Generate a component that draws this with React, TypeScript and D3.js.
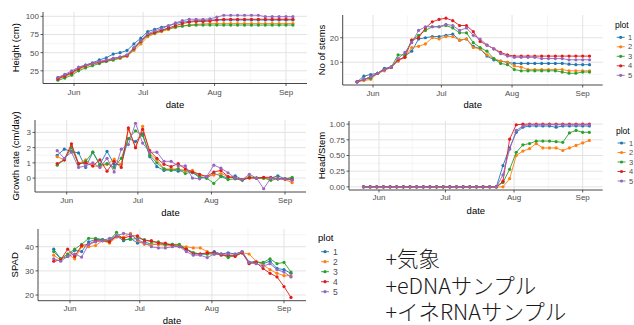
import React from "react";
import * as d3 from "d3";

const dates = [
  "2019-05-25", "2019-05-28", "2019-05-31", "2019-06-03", "2019-06-06", "2019-06-09", "2019-06-12",
  "2019-06-15", "2019-06-18", "2019-06-21", "2019-06-24", "2019-06-27", "2019-06-30", "2019-07-03",
  "2019-07-06", "2019-07-09", "2019-07-12", "2019-07-15", "2019-07-18", "2019-07-21", "2019-07-24",
  "2019-07-27", "2019-07-30", "2019-08-02", "2019-08-05", "2019-08-08", "2019-08-11", "2019-08-14",
  "2019-08-17", "2019-08-20", "2019-08-23", "2019-08-26", "2019-08-29", "2019-09-01", "2019-09-04",
];
const growthDates = dates.slice(1);

const plots = ["1", "2", "3", "4", "5"];
const plotColors = ["#1f77b4", "#ff7f0e", "#2ca02c", "#e31a1c", "#9467bd"];
const monthTicks = ["2019-06-01", "2019-07-01", "2019-08-01", "2019-09-01"];
const monthLabels = ["Jun", "Jul", "Aug", "Sep"];

const heightSeries = [
  [15, 19, 23, 29, 33, 36, 40, 43, 48, 50, 53, 62, 70, 79, 82, 85, 87, 90, 92, 93, 94, 94, 95, 95, 95, 95, 95, 95, 95, 95, 95, 95, 95, 95, 95],
  [14, 17, 21, 27, 31, 34, 36, 38, 40, 42, 45, 53, 62, 72, 76, 79, 82, 85, 87, 88, 89, 89.5, 90, 90, 90, 90, 90, 90, 90, 90, 90, 90, 90, 90, 90],
  [12, 15, 19, 25, 29, 32, 35, 38, 40, 43, 46, 55, 65, 74, 77, 80, 83, 85, 86.5, 87.5, 88, 88, 88, 88, 88, 88, 88, 88, 88, 88, 88, 88, 88, 88, 88],
  [14, 18, 22, 28, 32, 35, 37, 39, 42, 44, 46, 56, 66, 75, 78, 81, 84, 87, 90, 92, 93, 93, 93.5, 95, 96, 96, 96, 96, 96, 96, 96, 96, 96, 96, 96],
  [16, 20, 25, 30, 33, 35, 38, 40, 42, 44, 47, 57, 67, 76, 80, 83, 87, 91, 94, 96, 96, 96, 96.5, 99, 101.5, 101.5, 101.5, 101.5, 101.5, 101.5, 99.5, 99.5, 99.5, 99.5, 99.5],
];
const heightTicks = [25, 50, 75, 100];

const stemSeries = [
  [2, 4.3, 5, 5.5, 7.5, 8, 10.5, 12.5, 14.5, 19.5, 20, 20.5, 20.5, 21, 21.5, 19, 19.5, 16.5, 15.5, 12.5, 11, 10.5, 10, 9.5, 9.5, 9.5, 9.5, 9.5, 9.5, 9.5, 9.5, 9.2, 9, 9, 9],
  [2, 2.5, 3, 5.5, 6.5, 8, 10.5, 12, 16, 16.5, 17.5, 20, 19.5, 20.5, 20.5, 19, 19.5, 16, 15.5, 13, 11.5, 10.5, 10, 8.5, 8, 7, 7, 7, 7, 7, 7, 6.5, 6.5, 6.5, 6.5],
  [2, 3, 3.5, 5.5, 7, 8, 13, 13, 19, 21, 23, 24.5, 24.5, 25, 24, 22, 22, 18, 16, 14.5, 11.5, 9.5, 9, 7, 6.5, 6.5, 6.5, 6.5, 6.5, 6.5, 6, 5.5, 5.5, 6, 6],
  [2, 3, 4, 5.5, 7, 8, 11, 12, 19, 20, 24, 26.5, 27.5, 28, 27, 25, 25, 22.5, 18.5, 17, 15.5, 14, 13, 12.5, 12.5, 12.5, 12.5, 12.5, 12.5, 12.5, 12.5, 12.5, 12.5, 12.5, 12.5],
  [2, 3, 4, 5.5, 7, 8, 11.5, 14, 18, 23, 24.5, 24.5, 24.5, 25.5, 25, 23, 24, 21, 19.5, 17, 15.5, 13.5, 12.5, 12, 12, 12, 12, 11.5, 11.5, 11.5, 11.5, 11, 11, 11, 11],
];
const stemTicks = [10, 20];

const growthSeries = [
  [1.5, 1.9, 1.75, 1.65, 0.7, 1.7, 0.9, 1.75, 0.9, 0.9, 2.6, 2.4, 2.9, 1.4, 0.75, 0.5, 0.55, 0.45, 0.5, 0.35, 0.05, 0.0, 0.3, 0.15, 0.0, 0.15, -0.1, 0.05, 0.0, 0.0, 0.0, 0.15, -0.05, -0.05],
  [1.4, 1.2, 2.1, 0.95, 1.2, 0.8, 0.75, 0.9, 1.25, 0.9, 3.2, 2.0, 3.4, 1.6, 1.2, 0.6, 0.6, 0.6, 0.5, 0.5, 0.2, 0.1, 0.2, 0.3, 0.1, 0.0, -0.1, 0.1, 0.0, 0.0, -0.05, 0.0, -0.1, -0.3],
  [0.85, 1.2, 2.0, 0.9, 1.1, 1.7, 0.85, 0.95, 0.7, 1.3, 2.6, 3.1, 2.8, 1.5, 1.0, 0.6, 0.5, 0.6, 0.3, 0.4, 0.1, 0.0, -0.35, 0.1, -0.1, -0.05, -0.15, 0.05, 0.0, 0.0, -0.15, -0.05, -0.05, 0.05],
  [0.95, 1.2, 2.25, 0.95, 1.0, 0.8, 1.2, 0.45, 1.1, 0.7, 3.3, 2.0, 3.2, 1.8, 1.3, 0.9, 0.75, 0.95, 0.6, 0.4, 0.25, 0.1, 0.4, 0.5, 0.1, 0.0, -0.1, 0.0, 0.0, 0.05, 0.05, -0.05, -0.05, -0.1],
  [1.8, 1.3, 1.7, 0.7, 0.8, 1.0, 0.7, 1.3, 0.4, 1.9, 2.2, 3.6, 2.3, 1.7, 1.7, 1.1, 1.1, 0.8, 0.8, 0.0, -0.05, 0.1, 0.85, 0.65, 0.35, 0.0, -0.1, 0.25, 0.0, -0.7, 0.0, -0.05, -0.05, -0.15],
];
const growthTicks = [0, 1, 2, 3];

const headStemSeries = [
  [0, 0, 0, 0, 0, 0, 0, 0, 0, 0, 0, 0, 0, 0, 0, 0, 0, 0, 0, 0, 0, 0.34, 0.62, 0.87, 0.95, 0.97, 0.97, 0.97, 0.97, 0.95, 0.97, 0.97, 0.97, 0.97, 0.97],
  [0, 0, 0, 0, 0, 0, 0, 0, 0, 0, 0, 0, 0, 0, 0, 0, 0, 0, 0, 0, 0, 0, 0.13, 0.5, 0.57, 0.61, 0.69, 0.62, 0.62, 0.62, 0.58, 0.62, 0.66, 0.7, 0.74],
  [0, 0, 0, 0, 0, 0, 0, 0, 0, 0, 0, 0, 0, 0, 0, 0, 0, 0, 0, 0, 0, 0.07, 0.28, 0.55, 0.67, 0.69, 0.73, 0.73, 0.73, 0.72, 0.71, 0.86, 0.9, 0.87, 0.87],
  [0, 0, 0, 0, 0, 0, 0, 0, 0, 0, 0, 0, 0, 0, 0, 0, 0, 0, 0, 0, 0, 0.09, 0.76, 0.99, 1, 1, 1, 1, 1, 1, 1, 1, 1, 1, 1],
  [0, 0, 0, 0, 0, 0, 0, 0, 0, 0, 0, 0, 0, 0, 0, 0, 0, 0, 0, 0, 0, 0.19, 0.6, 0.9, 0.97, 0.99, 0.99, 0.99, 0.99, 0.99, 0.99, 0.99, 0.99, 0.99, 0.99],
];
const headStemTicks = [0, 0.25, 0.5, 0.75, 1];

const spadSeries = [
  [39, 35, 36, 38.5, 38, 42, 43, 43, 42.5, 44.5, 42.5, 43.5, 41.5, 42, 41, 41, 41, 41, 40.5, 39, 37.5, 37, 37, 38, 37, 37.5, 37, 38, 33.5, 34, 33, 34, 31, 30.5, 29],
  [36.5, 34.5, 37, 35, 40, 40, 40.5, 42.5, 41.5, 44, 44, 45.5, 42.5, 41, 41, 41, 40.5, 40.5, 40.5, 40, 39.5, 39.5, 38, 37, 37, 36, 36.5, 37.5, 37, 34, 32.5, 30.5, 29, 28, 28],
  [38, 35, 37, 39, 41, 43.5, 43.5, 43, 42.5, 46, 43, 43, 43.5, 43, 42, 42, 41, 41, 41, 39, 37.5, 37, 37, 37, 37, 35.5, 36.5, 37.5, 33.5, 33.5, 33.5, 35, 33, 33.5, 29.5],
  [34, 34.5, 39, 36, 40.5, 41, 42.5, 42.5, 42, 44.5, 43.5, 44.5, 44.5, 42.5, 42.5, 41.5, 41.5, 40.5, 40, 39, 37, 37, 37.5, 37.5, 36.5, 36.5, 36, 37.5, 33, 33.5, 31, 29, 27.5, 23.5, 19],
  [35, 34, 36, 37, 35.7, 41, 42, 42.5, 43.5, 44.5, 45.5, 45, 43, 41.5, 40, 39.5, 39.5, 40, 40, 38, 36.5, 36.5, 35.5, 37, 37, 37, 37, 38, 33.5, 33, 32, 33, 30.5, 29.5, 27.5],
];
const spadTicks = [20, 30, 40];

const notes = ["+気象", "+eDNAサンプル", "+イネRNAサンプル"];

const parse = d3.timeParse("%Y-%m-%d");
const FONT = "'Liberation Sans', Arial, Helvetica, sans-serif";

type Legend = { tx: number; ty: number; y0: number; step: number; kx: number; lx: number; tf: number; lf: number };
type Spec = {
  l: number; t: number; r: number; b: number;
  xJun: number; xSep: number;
  series: number[][]; ds: string[];
  yTicks: number[]; fmt: (v: number) => string;
  title: string; titleX: number; labY: number; dateY: number;
  legend?: Legend;
};

function Panel({ s }: { s: Spec }) {
  const tickDates = monthTicks.map((d) => parse(d) as Date);
  const x = d3.scaleTime().domain([tickDates[0], tickDates[3]]).range([s.xJun, s.xSep]);
  const all = s.series.flat();
  const [mn, mx] = d3.extent(all) as [number, number];
  const pad = (mx - mn) * 0.05;
  const y = d3.scaleLinear().domain([mn - pad, mx + pad]).range([s.b, s.t]);
  const [d0, d1] = y.domain();
  const step = s.yTicks[1] - s.yTicks[0];
  const yMinor = d3
    .range(s.yTicks[0] - step / 2, s.yTicks[s.yTicks.length - 1] + step, step)
    .filter((v) => v >= d0 && v <= d1);
  const xMinor: Date[] = [];
  for (let i = 0; i < tickDates.length - 1; i++) {
    xMinor.push(new Date((tickDates[i].getTime() + tickDates[i + 1].getTime()) / 2));
  }
  const pd = s.ds.map((d) => parse(d) as Date);
  const line = d3
    .line<number>()
    .x((_, i) => x(pd[i]))
    .y((v) => y(v));
  const tickCol = "#4d4d4d";
  return (
    <g>
      {yMinor.map((v, i) => (
        <line key={"ym" + i} x1={s.l} x2={s.r} y1={y(v)} y2={y(v)} stroke="#efefef" strokeWidth={0.6} />
      ))}
      {xMinor.map((v, i) => (
        <line key={"xm" + i} x1={x(v)} x2={x(v)} y1={s.t} y2={s.b} stroke="#efefef" strokeWidth={0.6} />
      ))}
      {s.yTicks.map((v, i) => (
        <line key={"yM" + i} x1={s.l} x2={s.r} y1={y(v)} y2={y(v)} stroke="#e0e0e0" strokeWidth={0.9} />
      ))}
      {tickDates.map((v, i) => (
        <line key={"xM" + i} x1={x(v)} x2={x(v)} y1={s.t} y2={s.b} stroke="#e0e0e0" strokeWidth={0.9} />
      ))}
      {s.series.map((vals, k) => (
        <g key={"s" + k}>
          <path d={line(vals) || ""} fill="none" stroke={plotColors[k]} strokeWidth={0.9} />
          {vals.map((v, i) => (
            <circle key={i} cx={x(pd[i])} cy={y(v)} r={1.6} fill={plotColors[k]} />
          ))}
        </g>
      ))}
      <line x1={s.l} x2={s.l} y1={s.t} y2={s.b} stroke="#333" strokeWidth={0.9} />
      <line x1={s.l} x2={s.r} y1={s.b} y2={s.b} stroke="#333" strokeWidth={0.9} />
      {s.yTicks.map((v, i) => (
        <g key={"yt" + i}>
          <line x1={s.l - 2.5} x2={s.l} y1={y(v)} y2={y(v)} stroke="#333" strokeWidth={0.8} />
          <text x={s.l - 4} y={y(v) + 2.9} textAnchor="end" fontSize={8} fill={tickCol} fontFamily={FONT}>
            {s.fmt(v)}
          </text>
        </g>
      ))}
      {tickDates.map((v, i) => (
        <g key={"xt" + i}>
          <line x1={x(v)} x2={x(v)} y1={s.b} y2={s.b + 2.5} stroke="#333" strokeWidth={0.8} />
          <text x={x(v)} y={s.labY + 2.9} textAnchor="middle" fontSize={8} fill={tickCol} fontFamily={FONT}>
            {monthLabels[i]}
          </text>
        </g>
      ))}
      <text x={(s.l + s.r) / 2} y={s.dateY + 3.4} textAnchor="middle" fontSize={9.5} fill="#000" fontFamily={FONT}>
        date
      </text>
      <text
        transform={`translate(${s.titleX},${(s.t + s.b) / 2}) rotate(-90)`}
        y={3.4}
        textAnchor="middle"
        fontSize={9.5}
        fill="#000"
        fontFamily={FONT}
      >
        {s.title}
      </text>
      {s.legend && (
        <g>
          <text x={s.legend.tx} y={s.legend.ty + s.legend.tf * 0.35} fontSize={s.legend.tf} fontFamily={FONT}>
            plot
          </text>
          {plots.map((p, k) => {
            const yy = s.legend!.y0 + k * s.legend!.step;
            return (
              <g key={"lg" + k}>
                <line x1={s.legend!.kx - 4} x2={s.legend!.kx + 4} y1={yy} y2={yy} stroke={plotColors[k]} strokeWidth={0.9} />
                <circle cx={s.legend!.kx} cy={yy} r={1.6} fill={plotColors[k]} />
                <text x={s.legend!.lx} y={yy + s.legend!.lf * 0.35} fontSize={s.legend!.lf} fill={tickCol} fontFamily={FONT}>
                  {p}
                </text>
              </g>
            );
          })}
        </g>
      )}
    </g>
  );
}

export default function App() {
  const f0 = (v: number) => d3.format("d")(v);
  const f2 = (v: number) => d3.format(".2f")(v);
  const specs: Spec[] = [
    {
      l: 43, t: 12, r: 307, b: 83.5, xJun: 74, xSep: 286,
      series: heightSeries, ds: dates, yTicks: heightTicks, fmt: f0,
      title: "Height (cm)", titleX: 16, labY: 92.5, dateY: 105,
    },
    {
      l: 342.7, t: 15, r: 602.7, b: 85, xJun: 373, xSep: 582.7,
      series: stemSeries, ds: dates, yTicks: stemTicks, fmt: f0,
      title: "No of stems", titleX: 322, labY: 93, dateY: 105,
      legend: { tx: 615, ty: 25, y0: 37.3, step: 9.5, kx: 620.7, lx: 628, tf: 8.5, lf: 7.5 },
    },
    {
      l: 35, t: 120, r: 306, b: 192, xJun: 66.7, xSep: 285,
      series: growthSeries, ds: growthDates, yTicks: growthTicks, fmt: f0,
      title: "Growth rate (cm/day)", titleX: 16, labY: 200, dateY: 213,
    },
    {
      l: 349, t: 121, r: 602.7, b: 190, xJun: 379, xSep: 582.7,
      series: headStemSeries, ds: dates, yTicks: headStemTicks, fmt: f2,
      title: "Head/Stem", titleX: 321.7, labY: 197.5, dateY: 211,
      legend: { tx: 616, ty: 131, y0: 143, step: 9.5, kx: 621.5, lx: 629, tf: 8.5, lf: 7.5 },
    },
    {
      l: 38, t: 229, r: 306, b: 300.7, xJun: 70, xSep: 284,
      series: spadSeries, ds: dates, yTicks: spadTicks, fmt: f0,
      title: "SPAD", titleX: 15, labY: 307.7, dateY: 320.5,
      legend: { tx: 318, ty: 238, y0: 251.7, step: 10, kx: 325, lx: 333, tf: 9.5, lf: 8.5 },
    },
  ];
  return (
    <svg
      width={634}
      height={325}
      style={{ position: "absolute", left: 0, top: 0, background: "#fff" }}
    >
      <rect x={0} y={0} width={634} height={325} fill="#fff" />
      {specs.map((s, i) => (
        <Panel key={i} s={s} />
      ))}
      {notes.map((n, i) => (
        <text
          key={"n" + i}
          x={385.5}
          y={267 + i * 26.5}
          fontSize={21.5}
          fontWeight={300}
          fill="#1a1a1a"
          fontFamily="'Noto Sans CJK JP', 'Noto Sans', sans-serif"
        >
          {n}
        </text>
      ))}
    </svg>
  );
}
